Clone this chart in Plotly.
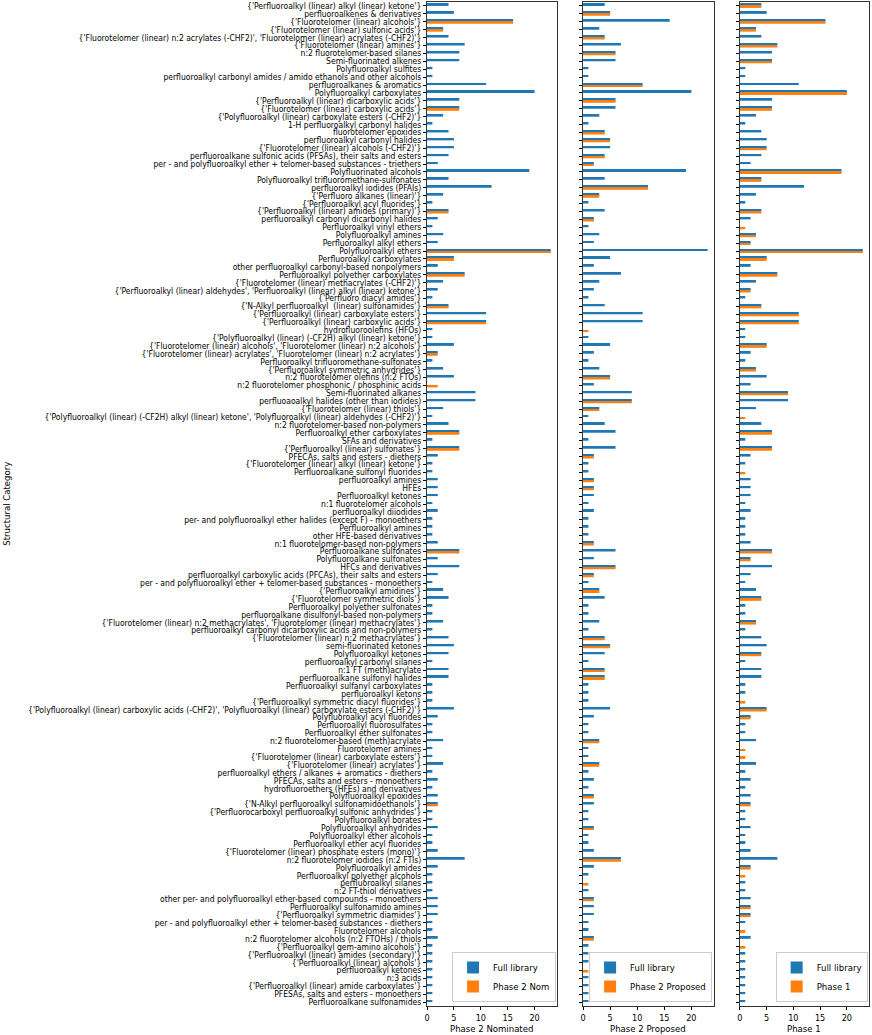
import plotly.graph_objects as go

categories = [
    "{'Perfluoroalkyl (linear) alkyl (linear) ketone'}",
    "perfluoroalkenes & derivatives",
    "{'Fluorotelomer (linear) alcohols'}",
    "{'Fluorotelomer (linear) sulfonic acids'}",
    "{'Fluorotelomer (linear) n:2 acrylates (-CHF2)', 'Fluorotelomer (linear) acrylates (-CHF2)'}",
    "{'Fluorotelomer (linear) amines'}",
    "n:2 fluorotelomer-based silanes",
    "Semi-fluorinated alkenes",
    "Polyfluoroalkyl sulfites",
    "perfluoroalkyl carbonyl amides / amido ethanols and other alcohols",
    "perfluoroalkanes & aromatics",
    "Polyfluoroalkyl carboxylates",
    "{'Perfluoroalkyl (linear) dicarboxylic acids'}",
    "{'Fluorotelomer (linear) carboxylic acids'}",
    "{'Polyfluoroalkyl (linear) carboxylate esters (-CHF2)'}",
    "1-H perfluoroalkyl carbonyl halides",
    "fluorotelomer epoxides",
    "perfluoroalkyl carbonyl halides",
    "{'Fluorotelomer (linear) alcohols (-CHF2)'}",
    "perfluoroalkane sulfonic acids (PFSAs), their salts and esters",
    "per - and polyfluoroalkyl ether + telomer-based substances - triethers",
    "Polyfluorinated alcohols",
    "Polyfluoroalkyl trifluoromethane-sulfonates",
    "perfluoroalkyl iodides (PFAIs)",
    "{'Perfluoro alkanes (linear)'}",
    "{'Perfluoroalkyl acyl fluorides'}",
    "{'Perfluoroalkyl (linear) amides (primary)'}",
    "perfluoroalkyl carbonyl dicarbonyl halides",
    "Perfluoroalkyl vinyl ethers",
    "Polyfluoroalkyl amines",
    "Perfluoroalkyl alkyl ethers",
    "Polyfluoroalkyl ethers",
    "Perfluoroalkyl carboxylates",
    "other perfluoroalkyl carbonyl-based nonpolymers",
    "Perfluoroalkyl polyether carboxylates",
    "{'Fluorotelomer (linear) methacrylates (-CHF2)'}",
    "{'Perfluoroalkyl (linear) aldehydes', 'Perfluoroalkyl (linear) alkyl (linear) ketone'}",
    "{'Perfluoro diacyl amides'}",
    "{'N-Alkyl perfluoroalkyl  (linear) sulfonamides'}",
    "{'Perfluoroalkyl (linear) carboxylate esters'}",
    "{'Perfluoroalkyl (linear) carboxylic acids'}",
    "hydrofluoroolefins (HFOs)",
    "{'Polyfluoroalkyl (linear) (-CF2H) alkyl (linear) ketone'}",
    "{'Fluorotelomer (linear) alcohols', 'Fluorotelomer (linear) n:2 alcohols'}",
    "{'Fluorotelomer (linear) acrylates', 'Fluorotelomer (linear) n:2 acrylates'}",
    "Perfluoroalkyl trifluoromethane-sulfonates",
    "{'Perfluoroalkyl symmetric anhydrides'}",
    "n:2 fluorotelomer olefins (n:2 FTOs)",
    "n:2 fluorotelomer phosphonic / phosphinic acids",
    "Semi-fluorinated alkanes",
    "perfluoaoalkyl halides (other than iodides)",
    "{'Fluorotelomer (linear) thiols'}",
    "{'Polyfluoroalkyl (linear) (-CF2H) alkyl (linear) ketone', 'Polyfluoroalkyl (linear) aldehydes (-CHF2)'}",
    "n:2 fluorotelomer-based non-polymers",
    "Perfluoroalkyl ether carboxylates",
    "SFAs and derivatives",
    "{'Perfluoroalkyl (linear) sulfonates'}",
    "PFECAs, salts and esters - diethers",
    "{'Fluorotelomer (linear) alkyl (linear) ketone'}",
    "Perfluoroalkane sulfonyl fluorides",
    "perfluoroalkyl amines",
    "HFEs",
    "Perfluoroalkyl ketones",
    "n:1 fluorotelomer alcohols",
    "perfluoroalkyl diiodides",
    "per- and polyfluoroalkyl ether halides (except F) - monoethers",
    "Perfluoroalkyl amines",
    "other HFE-based derivatives",
    "n:1 fluorotelomer-based non-polymers",
    "Perfluoroalkane sulfonates",
    "Polyfluoroalkane sulfonates",
    "HFCs and derivatives",
    "perfluoroalkyl carboxylic acids (PFCAs), their salts and esters",
    "per - and polyfluoroalkyl ether + telomer-based substances - monoethers",
    "{'Perfluoroalkyl amidines'}",
    "{'Fluorotelomer symmetric diols'}",
    "Perfluoroalkyl polyether sulfonates",
    "perfluoroalkane disulfonyl-based non-polymers",
    "{'Fluorotelomer (linear) n:2 methacrylates', 'Fluorotelomer (linear) methacrylates'}",
    "perfluoroalkyl carbonyl dicarboxylic acids and non-polymers",
    "{'Fluorotelomer (linear) n:2 methacrylates'}",
    "semi-fluorinated ketones",
    "Polyfluoroalkyl ketones",
    "perfluoroalkyl carbonyl silanes",
    "n:1 FT (meth)acrylate",
    "perfluoroalkane sulfonyl halides",
    "Perfluoroalkyl sulfanyl carboxylates",
    "perfluoroalkyl ketons",
    "{'Perfluoroalkyl symmetric diacyl fluorides'}",
    "{'Polyfluoroalkyl (linear) carboxylic acids (-CHF2)', 'Polyfluoroalkyl (linear) carboxylate esters (-CHF2)'}",
    "Polyfluoroalkyl acyl fluorides",
    "Perfluoroallyl fluorosulfates",
    "Perfluoroalkyl ether sulfonates",
    "n:2 fluorotelomer-based (meth)acrylate",
    "Fluorotelomer amines",
    "{'Fluorotelomer (linear) carboxylate esters'}",
    "{'Fluorotelomer (linear) acrylates'}",
    "perfluoroalkyl ethers / alkanes + aromatics - diethers",
    "PFECAs, salts and esters - monoethers",
    "hydrofluoroethers (HFEs) and derivatives",
    "Polyfluoroalkyl epoxides",
    "{'N-Alkyl perfluoroalkyl sulfonamidoethanols'}",
    "{'Perfluorocarboxyl perfluoroalkyl sulfonic anhydrides'}",
    "Polyfluoroalkyl borates",
    "Polyfluoroalkyl anhydrides",
    "Polyfluoroalkyl ether alcohols",
    "Perfluoroalkyl ether acyl fluorides",
    "{'Fluorotelomer (linear) phosphate esters (mono)'}",
    "n:2 fluorotelomer iodides (n:2 FTIs)",
    "Polyfluoroalkyl amides",
    "Perfluoroalkyl polyether alcohols",
    "perfluoroalkyl silanes",
    "n:2 FT-thiol derivatives",
    "other per- and polyfluoroalkyl ether-based compounds - monoethers",
    "Perfluoroalkyl sulfonamido amines",
    "{'Perfluoroalkyl symmetric diamides'}",
    "per - and polyfluoroalkyl ether + telomer-based substances - diethers",
    "Fluorotelomer alcohols",
    "n:2 fluorotelomer alcohols (n:2 FTOHs) / thiols",
    "{'Perfluoroalkyl gem-amino alcohols'}",
    "{'Perfluoroalkyl (linear) amides (secondary)'}",
    "{'Perfluoroalkyl (linear) alcohols'}",
    "perfluoroalkyl ketones",
    "n:3 acids",
    "{'Perfluoroalkyl (linear) amide carboxylates'}",
    "PFESAs, salts and esters - monoethers",
    "Perfluoroalkane sulfonamides",
]

# Panel 1: Phase 2 Nominated
full_nominated = [
    4, 5, 16, 3, 4, 7, 6, 6, 1, 1, 11, 20, 6, 6, 3, 1,
    4, 5, 5, 4, 2, 19, 4, 12, 3, 1, 4, 2, 1, 3, 2, 23,
    5, 2, 7, 3, 2, 1, 4, 11, 11, 1, 1, 5, 2, 1, 3, 5,
    0, 9, 9, 3, 1, 4, 6, 1, 6, 2, 1, 1, 2, 2, 2, 1,
    2, 1, 1, 1, 2, 6, 2, 6, 2, 1, 3, 4, 1, 1, 3, 1,
    4, 5, 4, 1, 4, 4, 1, 1, 1, 5, 2, 1, 1, 3, 1, 1,
    3, 1, 2, 1, 2, 2, 1, 1, 2, 1, 1, 2, 7, 2, 1, 1,
    1, 2, 2, 2, 1, 1, 2, 1, 1, 1, 1, 1, 1, 1, 1,
]
phase2_nominated = [
    0, 0, 16, 3, 0, 0, 0, 0, 0, 0, 0, 0, 0, 6, 0, 0,
    0, 0, 0, 0, 0, 0, 0, 0, 0, 0, 4, 0, 0, 0, 0, 23,
    5, 0, 7, 0, 0, 0, 4, 0, 11, 0, 0, 0, 2, 0, 0, 0,
    2, 0, 0, 0, 0, 0, 6, 0, 6, 0, 0, 0, 0, 0, 0, 0,
    0, 0, 0, 0, 0, 6, 0, 0, 0, 0, 0, 0, 0, 0, 0, 0,
    0, 0, 0, 0, 0, 0, 0, 0, 0, 0, 0, 0, 0, 0, 0, 0,
    0, 0, 0, 0, 0, 2, 0, 0, 0, 0, 0, 0, 0, 0, 0, 0,
    0, 0, 0, 0, 0, 0, 0, 0, 0, 0, 0, 0, 0, 0, 0,
]

# Panel 2: Phase 2 Proposed
full_proposed = [
    4, 5, 16, 3, 4, 7, 6, 6, 1, 1, 11, 20, 6, 6, 3, 1,
    4, 5, 5, 4, 2, 19, 4, 12, 3, 1, 4, 2, 1, 3, 2, 23,
    5, 2, 7, 3, 2, 1, 4, 11, 11, 0, 1, 5, 2, 1, 3, 5,
    2, 9, 9, 3, 1, 4, 6, 1, 6, 2, 1, 1, 2, 2, 2, 1,
    2, 1, 1, 1, 2, 6, 2, 6, 2, 1, 3, 4, 1, 1, 3, 1,
    4, 5, 4, 1, 4, 4, 1, 1, 1, 5, 2, 1, 1, 3, 1, 1,
    3, 1, 2, 1, 2, 2, 1, 1, 2, 1, 1, 2, 7, 2, 1, 0,
    1, 2, 2, 2, 1, 1, 2, 1, 1, 1, 0, 1, 1, 1, 1,
]
phase2_proposed = [
    0, 5, 0, 0, 4, 0, 6, 0, 0, 0, 11, 0, 6, 0, 0, 0,
    4, 5, 0, 4, 2, 0, 0, 12, 3, 0, 0, 2, 0, 0, 0, 0,
    0, 0, 0, 0, 0, 0, 0, 0, 0, 1, 0, 0, 0, 0, 0, 5,
    0, 0, 9, 3, 0, 0, 0, 0, 0, 2, 0, 0, 2, 2, 0, 0,
    0, 0, 0, 0, 2, 0, 0, 6, 2, 0, 3, 0, 0, 0, 0, 0,
    4, 5, 0, 0, 4, 4, 0, 0, 0, 0, 0, 0, 0, 3, 0, 0,
    3, 0, 0, 0, 2, 0, 0, 0, 2, 0, 0, 0, 7, 0, 0, 1,
    0, 2, 0, 0, 0, 0, 2, 0, 0, 0, 1, 0, 0, 0, 0,
]

# Panel 3: Phase 1
full_phase1 = [
    4, 5, 16, 3, 4, 7, 6, 6, 1, 1, 11, 20, 6, 6, 3, 1,
    4, 5, 5, 4, 2, 19, 4, 12, 3, 1, 4, 2, 0, 3, 2, 23,
    5, 2, 7, 3, 2, 1, 4, 11, 11, 1, 1, 5, 2, 1, 3, 5,
    2, 9, 9, 3, 0, 4, 6, 1, 6, 2, 1, 0, 2, 2, 2, 1,
    2, 1, 1, 1, 2, 6, 2, 6, 2, 1, 3, 4, 1, 1, 3, 1,
    4, 5, 4, 1, 4, 4, 1, 1, 0, 5, 2, 1, 1, 3, 0, 0,
    3, 1, 2, 1, 2, 2, 1, 1, 2, 1, 1, 2, 7, 2, 0, 1,
    1, 2, 2, 2, 1, 0, 2, 0, 1, 1, 1, 1, 1, 1, 1,
]
phase1 = [
    4, 0, 16, 3, 0, 7, 0, 6, 0, 0, 0, 20, 0, 6, 0, 0,
    0, 0, 5, 0, 0, 19, 4, 0, 0, 0, 4, 0, 1, 3, 2, 23,
    5, 0, 7, 0, 2, 0, 4, 11, 11, 0, 0, 5, 0, 0, 3, 0,
    0, 9, 0, 0, 1, 0, 6, 0, 6, 0, 0, 1, 0, 0, 0, 0,
    0, 0, 0, 0, 0, 6, 2, 0, 0, 0, 0, 4, 0, 0, 3, 0,
    0, 0, 4, 0, 0, 0, 0, 0, 1, 5, 2, 0, 0, 0, 1, 1,
    0, 0, 0, 0, 0, 2, 0, 0, 0, 0, 0, 0, 0, 2, 1, 0,
    0, 0, 2, 2, 0, 1, 0, 1, 0, 0, 0, 0, 0, 0, 0,
]

x_ticks = [0, 5, 10, 15, 20]
x_titles = ["Phase 2 Nominated", "Phase 2 Proposed", "Phase 1"]
phase_names = ["Phase 2 Nom", "Phase 2 Proposed", "Phase 1"]

BLUE = "#1f77b4"
ORANGE = "#ff7f0e"
FONT = "Liberation Sans Narrow, DejaVu Sans Condensed, Liberation Sans, sans-serif"

panels = [
    (full_nominated, phase2_nominated),
    (full_proposed, phase2_proposed),
    (full_phase1, phase1),
]
domains = [[0.0, 0.294], [0.353, 0.649], [0.708, 1.0]]
legend_x = [0.292, 0.645, 0.997]

fig = go.Figure()
for i, (full, ph) in enumerate(panels):
    sfx = "" if i == 0 else str(i + 1)
    leg = "legend" if i == 0 else f"legend{i + 1}"
    fig.add_trace(go.Bar(
        x=full, y=categories, orientation="h", name="Full library",
        marker=dict(color=BLUE, line=dict(width=0)),
        xaxis="x" + sfx, yaxis="y" + sfx, legend=leg,
    ))
    fig.add_trace(go.Bar(
        x=ph, y=categories, orientation="h", name=phase_names[i],
        marker=dict(color=ORANGE, line=dict(width=0)),
        xaxis="x" + sfx, yaxis="y" + sfx, legend=leg,
    ))

layout = dict(
    width=872, height=1035,
    margin=dict(l=427, r=3, t=2, b=29),
    paper_bgcolor="white", plot_bgcolor="white",
    barmode="group", bargap=0.5, bargroupgap=0.0,
    font=dict(family=FONT, size=9, color="black"),
    showlegend=True,
)
for i in range(3):
    sfx = "" if i == 0 else str(i + 1)
    layout["xaxis" + sfx] = dict(
        domain=domains[i], anchor="y" + sfx, range=[0, 24.15],
        tickvals=x_ticks, ticks="outside", ticklen=3, tickcolor="black",
        showline=True, mirror=True, linecolor="#333", linewidth=1,
        showgrid=False, zeroline=False, automargin=False,
        tickfont=dict(size=9),
    )
    layout["yaxis" + sfx] = dict(
        anchor="x" + sfx, type="category",
        categoryorder="array", categoryarray=categories,
        range=[len(categories) - 0.5, -0.5],
        tickmode="linear", tick0=0, dtick=1,
        ticks="outside", ticklen=3, tickcolor="black",
        showticklabels=(i == 0),
        showline=True, mirror=True, linecolor="#333", linewidth=1,
        showgrid=False, zeroline=False, automargin=False,
        tickfont=dict(size=8.5),
    )
    leg = "legend" if i == 0 else f"legend{i + 1}"
    layout[leg] = dict(
        x=legend_x[i], y=0.004, xanchor="right", yanchor="bottom",
        bgcolor="rgba(255,255,255,0.85)", bordercolor="#cccccc", borderwidth=1,
        font=dict(size=9.5),
        traceorder="normal", itemwidth=30, tracegroupgap=0,
    )

fig.update_layout(**layout)
for i in range(3):
    d = domains[i]
    fig.add_annotation(
        text=x_titles[i], xref="paper", yref="paper",
        x=(d[0] + d[1]) / 2, y=-0.0222, showarrow=False,
        font=dict(size=9.5), xanchor="center", yanchor="middle",
    )
fig.add_annotation(
    text="Structural Category", xref="paper", yref="paper",
    x=-0.953, y=0.5, showarrow=False, textangle=-90,
    font=dict(size=9.5), xanchor="center", yanchor="middle",
)

fig.write_html(
    "out.html",
    config={"displayModeBar": False},
    post_script="document.body.style.margin='0px';document.body.style.overflow='hidden';",
)
